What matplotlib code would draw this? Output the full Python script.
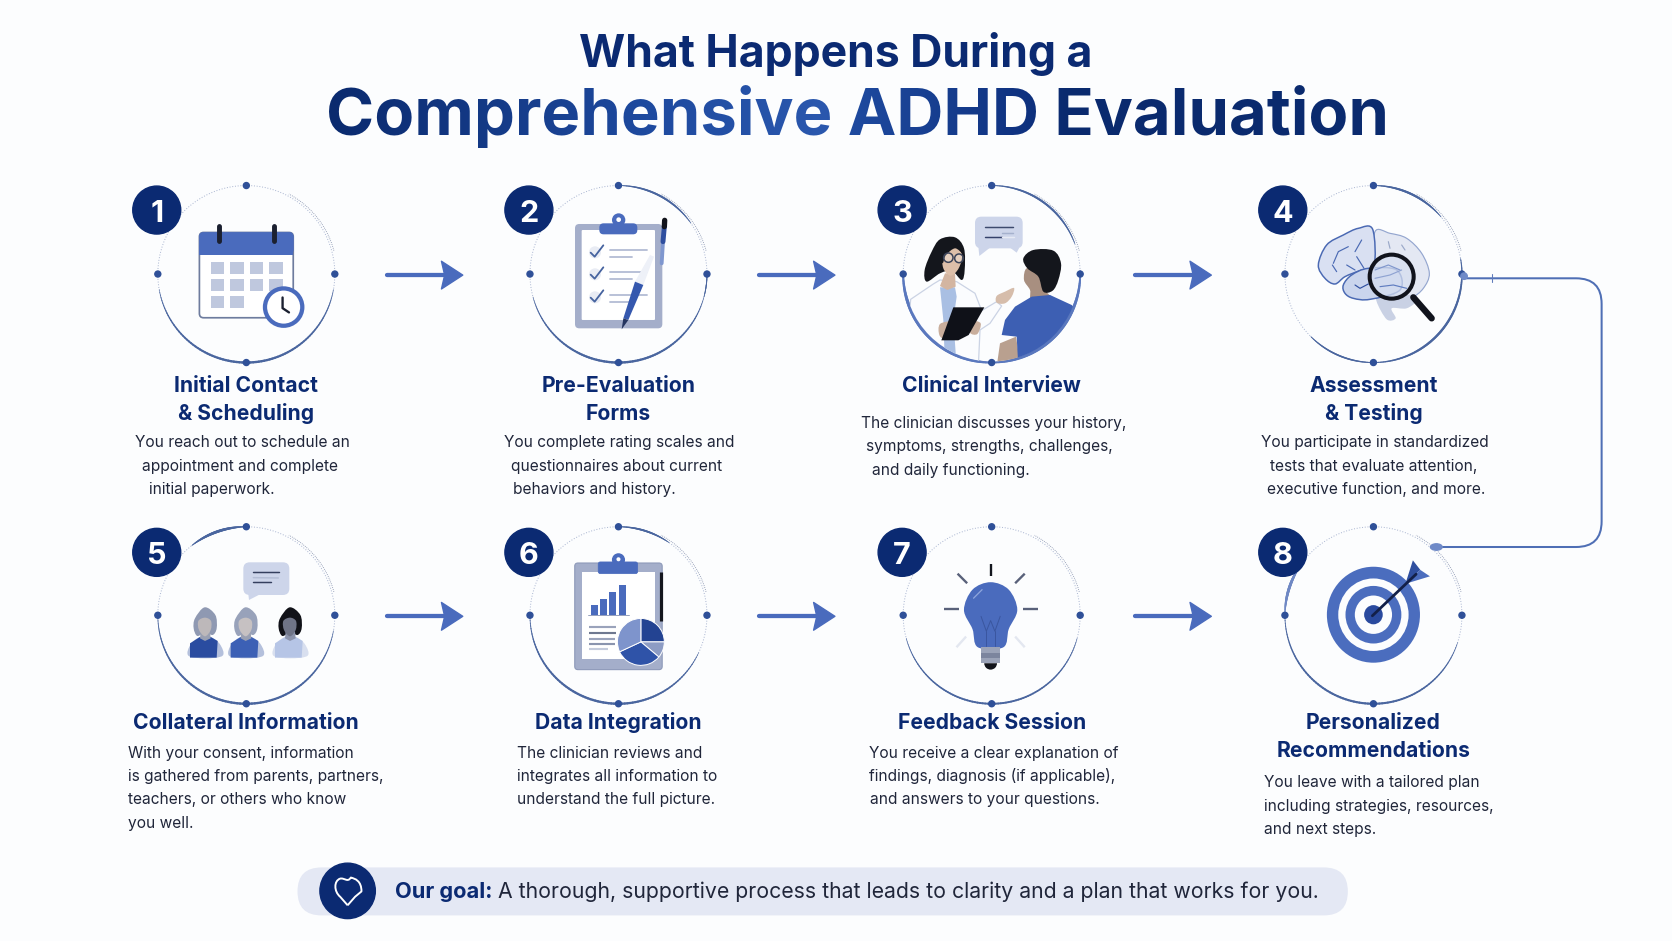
import numpy as np
import matplotlib
matplotlib.use("Agg")
import matplotlib.pyplot as plt
from matplotlib.patches import Circle, Ellipse, Polygon, FancyBboxPatch, Rectangle, Wedge, PathPatch
from matplotlib.path import Path
from matplotlib.collections import LineCollection
from matplotlib.colors import to_rgb

# ---------- content ----------
TITLE_1 = "What Happens During a"
TITLE_2 = "Comprehensive ADHD Evaluation"
step_numbers = ["1", "2", "3", "4", "5", "6", "7", "8"]
step_titles = [
    ["Initial Contact", "& Scheduling"],
    ["Pre-Evaluation", "Forms"],
    ["Clinical Interview"],
    ["Assessment", "& Testing"],
    ["Collateral Information"],
    ["Data Integration"],
    ["Feedback Session"],
    ["Personalized", "Recommendations"],
]
step_bodies = [
    ["You reach out to schedule an", "appointment and complete", "initial paperwork."],
    ["You complete rating scales and", "questionnaires about current", "behaviors and history."],
    ["The clinician discusses your history,", "symptoms, strengths, challenges,", "and daily functioning."],
    ["You participate in standardized", "tests that evaluate attention,", "executive function, and more."],
    ["With your consent, information", "is gathered from parents, partners,", "teachers, or others who know", "you well."],
    ["The clinician reviews and", "integrates all information to", "understand the full picture."],
    ["You receive a clear explanation of", "findings, diagnosis (if applicable),", "and answers to your questions."],
    ["You leave with a tailored plan", "including strategies, resources,", "and next steps."],
]
GOAL_BOLD = "Our goal:"
GOAL_TEXT = "A thorough, supportive process that leads to clarity and a plan that works for you."

# ---------- layout (in units of a 1568-wide canvas) ----------
W, H = 1568, 882.5
col_x = [231, 580, 930, 1288]
row_y = [257, 577]
badge_x = [147, 496, 846, 1203]
badge_y = [197, 518]
title_y = [[360, 386], [360, 386], [360], [360, 386], [676], [676], [676], [676, 702]]
body_y0 = [414, 414, 396, 414, 705, 705, 705, 733]
body_left = [
    [127, 133, 140], [473, 479, 481], [807, 812, 818], [1183, 1191, 1188],
    [120, 120, 120, 120], [485, 485, 485], [815, 815, 816], [1185, 1185, 1185],
]
arrow_x0 = [361, 710, 1063]

NAVY = "#0B2A72"
BLUE = "#4A6BBD"
MID = "#4A669F"
LIGHT = "#C9D2E8"
INK = "#20263A"
BG = "#FCFDFE"
FONT = "Inter"

fig = plt.figure(figsize=(16.72, 9.41), dpi=100, facecolor=BG)
ax = fig.add_axes([0, 0, 1, 1])
ax.set_xlim(0, W)
ax.set_ylim(H, 0)
ax.axis("off")
SCALE = 1672 / 1568
K = SCALE * 0.72  # canvas units to points


def add(p):
    ax.add_patch(p)
    return p


def rbox(x0, y0, x1, y1, r, **kw):
    return add(FancyBboxPatch((x0 + r, y0 + r), x1 - x0 - 2 * r, y1 - y0 - 2 * r,
                              boxstyle=f"round,pad={r}", **kw))


def line(xs, ys, c, lw, z=3, cap="round", **kw):
    ax.plot(xs, ys, color=c, lw=lw * K, solid_capstyle=cap, zorder=z, **kw)


def poly(pts, **kw):
    return add(Polygon(pts, closed=True, **kw))


def smooth(pts, **kw):
    """Closed smooth blob through control points."""
    v = [pts[0]]
    codes = [Path.MOVETO]
    n = len(pts)
    for i in range(n):
        p0, p1, p2, p3 = [np.array(pts[(i + j) % n], float) for j in (-1, 0, 1, 2)]
        v += [p1 + (p2 - p0) / 6, p2 - (p3 - p1) / 6, p2]
        codes += [Path.CURVE4] * 3
    return add(PathPatch(Path(v, codes), **kw))


def Z(ox, oy):
    """Map positions measured on a 3x crop with origin (ox, oy) to canvas units."""
    def f(pts):
        return [((ox + x / 3) / SCALE, (oy + y / 3) / SCALE) for x, y in pts]
    return f


ZU = 1 / (3 * SCALE)


def zline(f, pts, c, lw, z=3, cap="round"):
    p = f(pts)
    line([a for a, b in p], [b for a, b in p], c, lw, z=z, cap=cap)


def arc(cx, cy, r, t1, t2, lw0, lw1=None, c=MID, z=2):
    lw1 = lw0 if lw1 is None else lw1
    t = np.radians(np.linspace(t1, t2, 90))
    x, y = cx + r * np.cos(t), cy - r * np.sin(t)
    pts = np.column_stack([x, y]).reshape(-1, 1, 2)
    segs = np.concatenate([pts[:-1], pts[1:]], axis=1)
    prof = np.sin(np.linspace(0, np.pi, 89)) ** 0.8
    lc = LineCollection(segs, linewidths=(lw1 + (lw0 - lw1) * prof) * K, colors=c,
                        capstyle="round", zorder=z)
    ax.add_collection(lc)


# Rings: solid arcs (start, end, peak width, end width, colour)
ring_arcs = [
    [(190, 350, 2.2, 0.5, MID)],
    [(90, 35, 1.8, 0.5, MID), (195, 345, 2.2, 0.5, MID), (345, 362, 0.9, 0.5, MID)],
    [(90, 20, 1.9, 0.6, MID), (180, 270, 3.6, 1.6, "#5A78BE"), (270, 362, 3.2, 1.4, "#5A78BE")],
    [(90, 40, 2.0, 0.5, MID), (10, -90, 2.2, 0.8, MID), (225, 270, 1.5, 0.7, MID)],
    [(90, 128, 2.5, 0.6, MID), (180, 350, 2.2, 0.5, MID)],
    [(90, 55, 1.7, 0.5, MID), (180, 335, 2.2, 0.5, MID)],
    [(195, 345, 1.8, 0.5, MID)],
    [(178, 342, 2.0, 0.5, MID), (145, 178, 2.6, 0.8, "#6F88C4")],
]
for i in range(8):
    cx, cy = col_x[i % 4], row_y[i // 4]
    t = np.radians(np.linspace(0, 360, 361))
    ax.plot(cx + 83 * np.cos(t), cy + 83 * np.sin(t), color="#A8B4D0", lw=0.7,
            ls=(0, (1, 1.8)), zorder=1)
    t2_ = np.radians(np.linspace(15, 62, 60))
    ax.plot(cx + 85 * np.cos(t2_), cy - 85 * np.sin(t2_), color="#7F8BA8", lw=0.6,
            ls=(0, (1, 1.4)), zorder=1)
    for a in ring_arcs[i]:
        arc(cx, cy, 83, a[0], a[1], a[2], a[3], c=a[4])
    for dx, dy in ((0, -83), (83, 0), (0, 83), (-83, 0)):
        add(Circle((cx + dx, cy + dy), 2.8, color="#2F5098", zorder=4))

# Badges
for i, n in enumerate(step_numbers):
    bx, by = badge_x[i % 4], badge_y[i // 4]
    add(Circle((bx, by), 22.5, color=NAVY, zorder=5))
    ax.text(bx, by + 0.5, n, color="white", fontsize=22, fontweight="bold", family=FONT,
            ha="center", va="center_baseline", zorder=6)

# Flow arrows
for y in row_y:
    for x0 in arrow_x0:
        ya = y + 1
        line([x0 + 1.5, x0 + 56], [ya, ya], BLUE, 4.0, cap="round")
        poly([(x0 + 53, ya - 13), (x0 + 73, ya), (x0 + 53, ya + 13), (x0 + 56, ya)],
             fc=BLUE, ec=BLUE, lw=1, joinstyle="round", zorder=3)

# Connector from step 4 to step 8
conn = Path(
    [(1373, 261), (1478, 261), (1502, 261), (1502, 285), (1502, 489), (1502, 513), (1478, 513), (1350, 513)],
    [Path.MOVETO, Path.LINETO, Path.CURVE3, Path.CURVE3, Path.LINETO, Path.CURVE3, Path.CURVE3, Path.LINETO])
add(PathPatch(conn, fc="none", ec="#4F6FB5", lw=1.9 * K, zorder=3))
add(Ellipse((1347, 513), 11, 6, color="#6F8AC8", zorder=4))
line([1399, 1399], [257, 264], "#5F7BBB", 1)
add(Circle((1373, 259), 3, color="#6F8AC8", zorder=4))


# ---------- Icons ----------
def icon_calendar(cx, cy):
    rbox(187, 218, 275, 298, 4, fc="white", ec="#6E7C9E", lw=1.6 * K, zorder=3)
    rbox(187, 218, 275, 238, 4, fc=BLUE, ec=BLUE, lw=0.5, zorder=3)
    add(Rectangle((187, 230), 88, 9, fc=BLUE, ec="none", zorder=3))
    for x in (205, 257):
        line([x, x], [212, 226], "#1B2030", 4.6, z=4)
    xs = [197.5, 215.5, 234, 252]
    ys = [245.6, 261.6, 277.6]
    cells = [4, 4, 2]
    for y, n in zip(ys, cells):
        for x in xs[:n]:
            add(Rectangle((x, y), 13, 11.5, fc="#BFC8DE", ec="none", zorder=4))
    add(Circle((266, 288), 17.5, fc="white", ec=BLUE, lw=4 * K, zorder=5))
    line([265, 265, 271], [279, 289, 293], "#1B2030", 2.2, z=6)


def icon_forms(cx, cy):
    f = Z(560, 205)
    (x0, y0), (x1, y1) = f([(45, 57), (307, 370)])
    rbox(x0, y0, x1, y1, 4, fc="#A4AECA", ec="none", zorder=3)
    (x0, y0), (x1, y1) = f([(65, 75), (285, 345)])
    rbox(x0, y0, x1, y1, 1, fc="white", ec="none", zorder=3)
    (x0, y0), (x1, y1) = f([(118, 55), (232, 88)])
    rbox(x0, y0, x1, y1, 4, fc=BLUE, ec="none", zorder=5)
    add(Circle(f([(176, 45)])[0], 20 * ZU, fc=BLUE, ec="none", zorder=5))
    add(Circle(f([(176, 44)])[0], 7 * ZU, fc="white", ec="none", zorder=6))
    for dy in (0, 66, 135):
        add(Circle(f([(105, 142 + dy)])[0], 18 * ZU, fc="#E9ECF4", ec="none", zorder=4))
        zline(f, [(92, 143 + dy), (104, 155 + dy), (130, 121 + dy)], "#46639F", 1.7, z=5)
        zline(f, [(150, 134 + dy), (260, 134 + dy)], "#B3BCD4", 1.7, z=5)
        zline(f, [(150, 155 + dy), (215, 155 + dy)], "#B3BCD4", 1.7, z=5)
    # pen seen along the edge of the board
    zline(f, [(305, 175), (309, 110)], "#7F97CF", 3.6, z=6)
    zline(f, [(309, 110), (313, 65)], "#2F4F9F", 4.6, z=6)
    zline(f, [(313, 65), (314, 46)], "#12141C", 5, z=7)
    # pen resting on the form
    poly(f([(270, 150), (282, 155), (250, 240), (225, 230)]), fc="#EEF1F8", ec="none", zorder=6)
    poly(f([(225, 230), (250, 240), (205, 345), (190, 340)]), fc="#3558AE", ec="none", zorder=6)
    poly(f([(190, 340), (205, 345), (185, 373)]), fc="#24345F", ec="none", zorder=6)


def icon_interview(cx, cy):
    f = Z(890, 180)
    clip = Circle((cx, cy), 82, transform=ax.transData)
    ps = []
    skin = "#DDBFA9"
    ps.append(smooth(f([(150, 178), (195, 172), (222, 205), (224, 270), (215, 300), (185, 272), (150, 280),
                        (110, 305), (104, 270), (125, 215)]), fc="#14161C", ec="none", zorder=3))
    ps.append(poly(f([(45, 560), (62, 358), (130, 312), (150, 300), (200, 305), (255, 340), (275, 392),
                      (320, 365), (335, 378), (300, 430), (270, 450), (265, 560)]),
                   fc="#FBFCFE", ec="#CBD3E4", lw=0.9, zorder=3))
    ps.append(poly(f([(150, 322), (195, 322), (200, 350), (190, 420), (200, 560), (165, 560), (160, 420)]),
                   fc="#A9BFE3", ec="none", zorder=4))
    ps.append(poly(f([(165, 280), (195, 280), (197, 320), (172, 330), (150, 318)]), fc="#D3B5A1", ec="none", zorder=4))
    ps.append(smooth(f([(160, 225), (195, 200), (216, 225), (206, 265), (182, 287), (160, 265)]),
                     fc=skin, ec="none", zorder=5))
    ps.append(smooth(f([(152, 225), (168, 190), (200, 190), (218, 220), (195, 205), (168, 225), (158, 250)]),
                     fc="#14161C", ec="none", zorder=5))
    for c, r in (((175, 233), 14), ((207, 235), 13)):
        add(Circle(f([c])[0], r * ZU, fc=(1, 1, 1, 0.25), ec="#3C4459", lw=1.1, zorder=6))
    # hands and tablet
    ps.append(smooth(f([(150, 432), (190, 425), (198, 450), (165, 475), (148, 465)]), fc="#C9AE9C", ec="none", zorder=6))
    ps.append(smooth(f([(245, 425), (272, 430), (262, 462), (240, 458)]), fc="#C9AE9C", ec="none", zorder=6))
    poly(f([(190, 382), (283, 382), (236, 465), (205, 481), (154, 481)]), fc="#0F1118", ec="none", zorder=7)
    ps.append(smooth(f([(320, 348), (345, 335), (372, 324), (365, 350), (345, 370), (320, 368)]),
                     fc="#D6BDAB", ec="none", zorder=6))
    # patient
    ps.append(smooth(f([(410, 265), (445, 280), (470, 335), (480, 352), (425, 362), (420, 330), (402, 300)]),
                     fc="#A88F80", ec="none", zorder=5))
    ps.append(smooth(f([(400, 235), (430, 210), (490, 212), (513, 250), (505, 300), (488, 332), (460, 335),
                        (445, 290), (412, 265)]), fc="#14161C", ec="none", zorder=6))
    ps.append(poly(f([(378, 470), (392, 560), (320, 560), (330, 490)]), fc="#B9A08F", ec="none", zorder=5))
    ps.append(poly(f([(425, 350), (480, 345), (545, 375), (570, 400), (570, 560), (385, 560), (380, 470),
                      (335, 465), (345, 420), (375, 380)]), fc="#3D5FB3", ec="none", zorder=5))
    for p in ps:
        p.set_clip_path(clip)
    # bubble
    (x0, y0), (x1, y1) = f([(255, 110), (398, 205)])
    rbox(x0, y0, x1, y1, 6, fc="#CDD5EA", ec="none", zorder=3)
    poly(f([(265, 200), (300, 203), (268, 228)]), fc="#CDD5EA", ec="none", zorder=3)
    poly(f([(360, 203), (388, 203), (380, 218)]), fc="#CDD5EA", ec="none", zorder=3)
    zline(f, [(285, 142), (370, 142)], "#3D4A6D", 1.4, z=4)
    zline(f, [(285, 172), (335, 172)], "#34416A", 1.4, z=4)
    zline(f, [(335, 158), (370, 158)], "#A5B1CD", 1.4, z=4)
    zline(f, [(335, 172), (372, 172)], "#E6EAF4", 1.4, z=4)


def icon_brain(cx, cy):
    f = Z(1300, 210)
    oc = "#4A69B3"
    smooth(f([(225, 65), (270, 70), (320, 85), (365, 130), (388, 190), (370, 235), (335, 262), (290, 262), (225, 170)]),
           fc="#E4E8F3", ec="#94A6CF", lw=1.1 * K, zorder=3)
    smooth(f([(230, 275), (260, 328), (287, 325), (275, 295), (320, 295), (352, 270), (330, 255), (240, 258)]),
           fc="#C9D1E4", ec="none", zorder=3)
    smooth(f([(55, 165), (80, 105), (130, 75), (175, 55), (218, 58), (222, 170), (180, 182), (135, 200),
              (105, 222), (75, 205)]), fc="#D9E0F2", ec=oc, lw=1.4 * K, zorder=4)
    smooth(f([(130, 225), (155, 195), (205, 175), (290, 180), (300, 240), (210, 268), (160, 265), (135, 250)]),
           fc="#CAD5ED", ec=oc, lw=1.4 * K, zorder=5)
    for pts, c in (([(100, 160), (115, 125), (145, 110)], "#4A69B3"), ([(165, 125), (185, 90)], "#4A69B3"),
                   ([(140, 165), (165, 180)], "#4A69B3"), ([(170, 140), (192, 175)], "#4A69B3"),
                   ([(97, 165), (110, 185)], "#4A69B3"), ([(165, 225), (180, 235), (205, 222)], "#2F4FA0"),
                   ([(265, 95), (270, 115)], "#9AA8C8"), ([(305, 105), (315, 120)], "#9AA8C8"),
                   ([(225, 180), (265, 165), (300, 180)], "#7F96CC"), ([(240, 230), (280, 225), (320, 235)], "#5F7CC0"),
                   ([(225, 205), (270, 195), (305, 180)], "#8FA3D2")):
        zline(f, pts, c, 1.1, z=8)
    add(Circle(f([(275, 200)])[0], 66 * ZU, fc=(0.84, 0.87, 0.94, 0.75), ec="#11131C", lw=3.8 * K, zorder=7))
    zline(f, [(340, 262), (395, 325)], "#11131C", 6.0, z=8)


def icon_people(cx, cy):
    f = Z(180, 555)
    hair = ["#8F99B2", "#98A2BA", "#111218"]
    face = ["#BDB8BA", "#C6C1C2", "#6F7487"]
    neck = ["#9AA0B2", "#9AA0B2", "#8B93AB"]
    body = ["#2A4CA0", "#3C60B5", "#B6C5E6"]
    side = ["#B4C0DC", "#B4C0DC", "#D8DFEF"]
    for dx, h, fa, n, b, s in zip((0, 122, 255), hair, face, neck, body, side):
        smooth(f([(25 + dx, 302), (32 + dx, 268), (60 + dx, 246), (92 + dx, 246), (120 + dx, 268), (128 + dx, 302),
                  (76 + dx, 310)]), fc=s, ec="none", zorder=3)
        poly(f([(30 + dx, 265), (60 + dx, 246), (92 + dx, 246), (113 + dx, 258), (110 + dx, 308), (30 + dx, 308)]),
             fc=b, ec="none", zorder=3)
        smooth(f([(45 + dx, 190), (74 + dx, 157), (106 + dx, 180), (110 + dx, 220), (98 + dx, 240), (76 + dx, 232),
                  (52 + dx, 243), (41 + dx, 220)]), fc=h, ec="none", zorder=4)
        poly(f([(62 + dx, 230), (90 + dx, 230), (92 + dx, 250), (75 + dx, 258), (60 + dx, 250)]), fc=n, ec="none", zorder=4)
        smooth(f([(55 + dx, 198), (75 + dx, 188), (93 + dx, 198), (92 + dx, 225), (75 + dx, 244), (57 + dx, 225)]),
               fc=fa, ec="none", zorder=5)
    (x0, y0), (x1, y1) = f([(190, 22), (328, 120)])
    rbox(x0, y0, x1, y1, 6, fc="#CDD5EA", ec="none", zorder=3)
    poly(f([(205, 118), (240, 118), (207, 135)]), fc="#CDD5EA", ec="none", zorder=3)
    zline(f, [(220, 52), (298, 52)], "#343F5E", 1.4, z=4)
    zline(f, [(220, 68), (295, 69)], "#B3BDD5", 1.4, z=4)
    zline(f, [(220, 82), (272, 82)], "#343F5E", 1.4, z=4)


bar_heights = [10, 15.6, 21.9, 28]


def icon_report(cx, cy):
    rbox(539, 528, 621, 628, 3, fc="#A4AECA", ec="#8D99B9", lw=0.8, zorder=3)
    add(Rectangle((546, 536), 68, 82, fc="white", ec="none", zorder=3))
    rbox(561, 527, 598, 538, 2, fc=BLUE, ec=BLUE, lw=0.5, zorder=5)
    add(Circle((580, 525), 5.5, fc=BLUE, ec=BLUE, zorder=5))
    add(Circle((580, 524.5), 1.9, fc="white", ec="none", zorder=6))
    line([619.5, 619.5], [536, 582], "#14161E", 3, z=5, cap="butt")
    for x, h in zip((554, 562.7, 571.3, 580.3), bar_heights):
        add(Rectangle((x, 577 - h), 6.6, h, fc=BLUE, ec="none", zorder=5))
    line([551, 590], [577, 577], "#8793B3", 0.8, z=5)
    for y, x1, c in ((588, 578, "#9AA3BB"), (593.5, 578, "#6E7890"), (599, 577, "#9AA3BB"),
                     (604, 577, "#8A94AE"), (609, 570, "#C4CBDC")):
        line([552, x1], [y, y], c, 2, z=5, cap="butt")
    pc, pr = (601, 602), 22
    # y-axis is inverted, so angles run clockwise on screen
    for a, b, c in ((-90, 0, "#234392"), (0, 40, "#8D9CC4"), (40, 155, "#2F53A8"), (155, 270, "#7E94CC")):
        add(Wedge(pc, pr, a, b, fc=c, ec="white", lw=0.7, zorder=7))


def icon_bulb(cx, cy):
    line([929, 929], [529, 540], "#14161E", 2.2, cap="butt")
    for (a, b, c, d), col in (((898, 907, 538, 547), "#59617A"), ((961, 952, 538, 547), "#59617A"),
                              ((885, 899, 571, 571), "#59617A"), ((959, 973, 571, 571), "#59617A"),
                              ((897, 906, 607, 597), "#E3E7F0"), ((961, 952, 607, 597), "#E3E7F0")):
        line([a, b], [c, d], col, 2.2, cap="butt")
    smooth([(904, 572), (912, 553), (929, 546), (946, 553), (954, 572), (946, 590), (941, 607),
            (917, 607), (912, 590)], fc=BLUE, ec="none", zorder=3)
    line([920, 925, 929, 933, 938], [578, 592, 582, 592, 578], "#3A569F", 0.9, z=4)
    line([925, 925], [592, 606], "#3A569F", 0.9, z=4)
    line([933, 933], [592, 606], "#3A569F", 0.9, z=4)
    line([913, 921], [561, 553], "#8FA6DC", 1.2, z=4)
    for y, c in ((610, "#9BA3B8"), (615, "#7C859E"), (620, "#9BA3B8")):
        add(Rectangle((920, y - 3), 18, 5, fc=c, ec="none", zorder=4))
    add(Wedge((929, 622), 6, 0, 180, fc="#12141B", ec="none", zorder=4))


def icon_target(cx, cy):
    cy = cy - 0.5
    for r, c in ((45, "#4B6DBE"), (34, BG), (27, "#4B6DBE"), (18, BG), (9, "#2A4A9E")):
        add(Ellipse((cx, cy), 2 * r * 0.97, 2 * r, fc=c, ec="none", zorder=3))
    line([cx - 1, cx + 40], [cy + 1, cy - 38], "#132048", 2.6, z=5)
    poly([(cx + 30, cy - 29), (cx + 37, cy - 51), (cx + 44, cy - 42)], fc="#2F4F9F", ec="none", zorder=4)
    poly([(cx + 30, cy - 29), (cx + 53, cy - 36), (cx + 44, cy - 42)], fc="#4B6DBE", ec="none", zorder=4)


icons = [icon_calendar, icon_forms, icon_interview, icon_brain,
         icon_people, icon_report, icon_bulb, icon_target]
for i, fn in enumerate(icons):
    fn(col_x[i % 4], row_y[i // 4])

# ---------- Text ----------
for i in range(8):
    cx = col_x[i % 4]
    for s, y in zip(step_titles[i], title_y[i]):
        ax.text(cx, y + 8, s, color=NAVY, fontsize=15.2, fontweight="bold", family=FONT,
                ha="center", va="baseline", zorder=6)
    for j, s in enumerate(step_bodies[i]):
        ax.text(body_left[i][j], body_y0[i] + j * 21.9 + 5.5, s, color=INK, fontsize=11.15, family=FONT,
                ha="left", va="baseline", zorder=6)

ax.text(784, 63, TITLE_1, color=NAVY, fontsize=32.1, fontweight="bold", family=FONT,
        ha="center", va="baseline", zorder=6)
t2 = ax.text(804.5, 127, TITLE_2, color=NAVY, fontsize=46.9, fontweight="bold", family=FONT,
             ha="center", va="baseline", zorder=6)

grad_pos = [0, 0.30, 0.47, 0.49, 0.66, 0.70, 1]
grad_col = ["#0A2A6E", "#1E4A9F", "#2B58AE", "#1F4BA0", "#0F3280", "#0A2A6E", "#0A2A6E"]


def gradient_filter(img, dpi):
    out = img.copy()
    f = np.linspace(0, 1, img.shape[1])
    rgb = np.array([to_rgb(c) for c in grad_col])
    for k in range(3):
        out[:, :, k] = np.interp(f, grad_pos, rgb[:, k])[None, :]
    return out, 0, 0


t2.set_agg_filter(gradient_filter)

# Goal pill
rbox(279, 813.5, 1264, 858.5, 22.5, fc="#E4E8F4", ec="none", zorder=2)
add(Circle((326, 835.5), 26, color=NAVY, zorder=3))
heart = Path([(326, 849), (319, 841), (313, 836), (313, 826), (319, 824), (323, 823), (326, 828),
              (329, 823), (333, 824), (339, 826), (339, 836), (333, 841), (326, 849)],
             [Path.MOVETO, Path.LINETO, Path.CURVE4, Path.CURVE4, Path.CURVE4, Path.CURVE4, Path.CURVE4,
              Path.CURVE4, Path.CURVE4, Path.CURVE4, Path.CURVE4, Path.LINETO, Path.LINETO])
add(PathPatch(heart, fc="none", ec="white", lw=1.8 * K, zorder=4, joinstyle="round"))
ax.text(370, 842, GOAL_BOLD, color=NAVY, fontsize=15.7, fontweight="bold", family=FONT,
        ha="left", va="baseline", zorder=6)
ax.text(467, 842, GOAL_TEXT, color=INK, fontsize=15.3, family=FONT, ha="left", va="baseline", zorder=6)

fig.savefig("out.png", dpi=100, facecolor=BG)
